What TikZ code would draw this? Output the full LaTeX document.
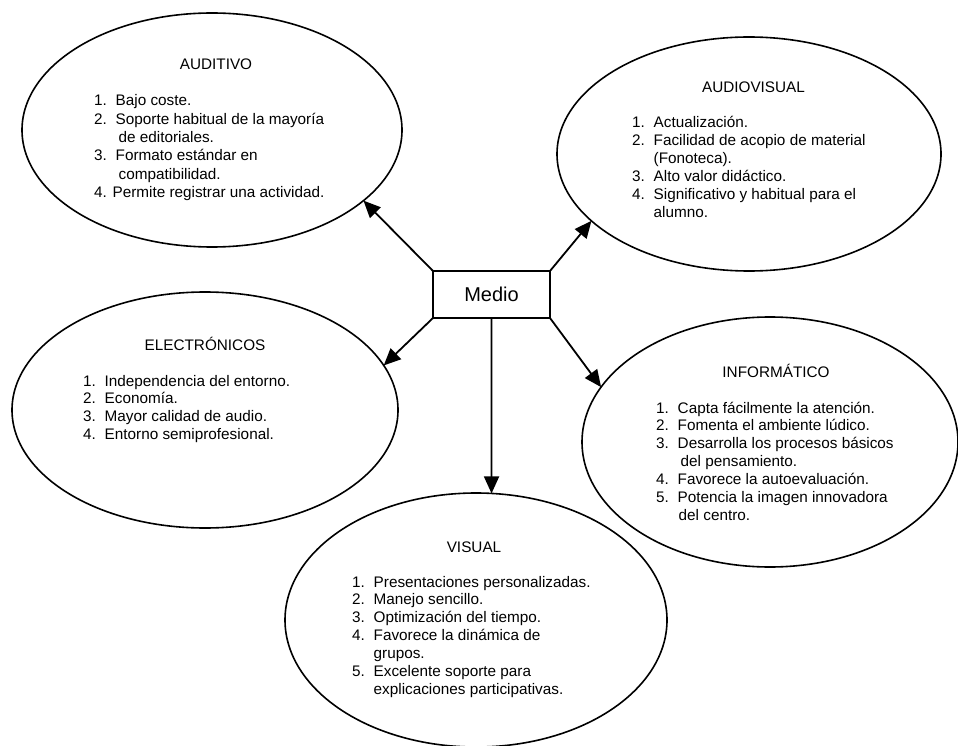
\documentclass[tikz,border=0pt]{standalone}
\usepackage{fontspec}
\setmainfont{Liberation Sans}
\usepackage{array}
\usetikzlibrary{shapes.geometric,arrows.meta}

% numbered entry column: number box, then the text
\newcolumntype{N}{@{}p{21.5pt}@{}}
\newcommand{\hang}[1]{\hspace*{#1}}

\begin{document}
\begin{tikzpicture}[x=1pt,y=-1pt,
  bubble/.style={ellipse,draw,line width=1.6pt,inner sep=0pt,outer sep=0pt},
  title/.style={anchor=base,inner sep=0pt,font=\fontsize{15.3}{17.9}\selectfont},
  items/.style={anchor=base west,inner sep=0pt,font=\fontsize{15.3}{17.9}\selectfont},
  hub/.style={draw,rectangle,line width=1.6pt,inner sep=0pt,outer sep=0pt,
    minimum width=117pt,minimum height=47pt,font=\fontsize{20}{24}\selectfont},
  conn/.style={line width=1.8pt,-{Triangle[length=17pt,width=15pt]}}]

\useasboundingbox (0,0) rectangle (958,746);

% the five categories
\node[bubble,minimum width=380pt,minimum height=234pt] (auditivo) at (212,130) {};
\node[bubble,minimum width=384pt,minimum height=234pt] (audiovisual) at (749,154) {};
\node[bubble,minimum width=386pt,minimum height=236pt] (electronicos) at (205,410) {};
\node[bubble,minimum width=376pt,minimum height=250pt] (informatico) at (770,442) {};
\node[bubble,minimum width=382pt,minimum height=254pt] (visual) at (476,620) {};

% central box
\node[hub] (medio) at (491.5,294.5) {Medio};

% connectors
\draw[conn] (medio.north west) -- (auditivo.-25.5);
\draw[conn] (medio.north east) -- (audiovisual.-157);
\draw[conn] (medio.south west) -- (electronicos.14.6);
\draw[conn] (medio.south east) -- (informatico.162.5);
\draw[conn] (medio.south) -- (visual.83.3);

% AUDITIVO
\node[title] (t-aud) at (216,70) {AUDITIVO};
\node[items,font=\fontsize{15.3}{18.3}\selectfont] (l-aud) at (94,106) {%
  \begin{tabular}[t]{Nl@{}}
  1. & Bajo coste.\\
  2. & Soporte habitual de la mayoría\\
     & \hang{3pt}de editoriales.\\
  3. & Formato estándar en\\
     & \hang{3pt}compatibilidad.\\
  \multicolumn{2}{@{}l@{}}{4. Permite registrar una actividad.}
  \end{tabular}};

% AUDIOVISUAL
\node[title] (t-av) at (753.5,93) {AUDIOVISUAL};
\node[items] (l-av) at (632,128) {%
  \begin{tabular}[t]{Nl@{}}
  1. & Actualización.\\
  2. & Facilidad de acopio de material\\
     & (Fonoteca).\\
  3. & Alto valor didáctico.\\
  4. & Significativo y habitual para el\\
     & alumno.
  \end{tabular}};

% ELECTRÓNICOS
\node[title] (t-el) at (205,350) {ELECTRÓNICOS};
\node[items] (l-el) at (83,386) {%
  \begin{tabular}[t]{Nl@{}}
  1. & Independencia del entorno.\\
  2. & Economía.\\
  3. & Mayor calidad de audio.\\
  4. & Entorno semiprofesional.
  \end{tabular}};

% INFORMÁTICO
\node[title] (t-inf) at (776,377) {INFORMÁTICO};
\node[items] (l-inf) at (656,413) {%
  \begin{tabular}[t]{Nl@{}}
  1. & Capta fácilmente la atención.\\
  2. & Fomenta el ambiente lúdico.\\
  3. & Desarrolla los procesos básicos\\
     & \hang{3pt}del pensamiento.\\
  4. & Favorece la autoevaluación.\\
  5. & Potencia la imagen innovadora\\
     & \hang{1pt}del centro.
  \end{tabular}};

% VISUAL
\node[title] (t-vis) at (474,552) {VISUAL};
\node[items] (l-vis) at (352,587) {%
  \begin{tabular}[t]{Nl@{}}
  1. & Presentaciones personalizadas.\\
  2. & Manejo sencillo.\\
  3. & Optimización del tiempo.\\
  4. & Favorece la dinámica de\\
     & grupos.\\
  5. & Excelente soporte para\\
     & explicaciones participativas.
  \end{tabular}};

\end{tikzpicture}
\end{document}
